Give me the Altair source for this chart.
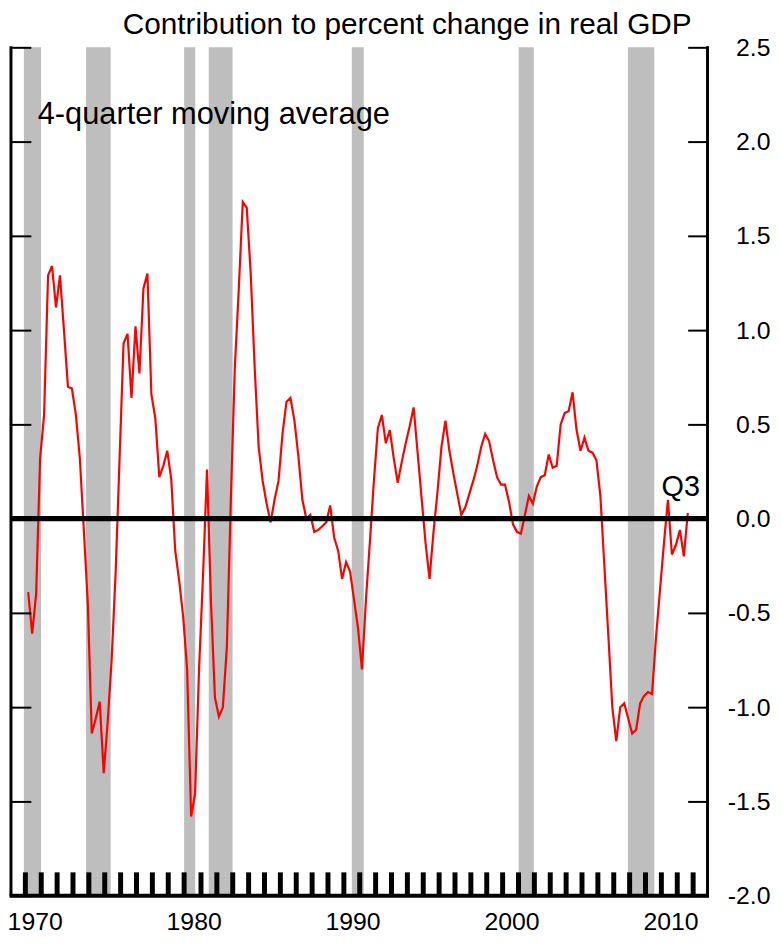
import altair as alt
import pandas as pd

# ---------------- data ----------------
TITLE = "Contribution to percent change in real GDP"
NOTE = "4-quarter moving average"
END_LABEL = "Q3"

FIRST_YEAR = 1970  # first observation: 1970 Q1, quarterly to 2011 Q3
VALUES = [
    -0.39, -0.61, -0.40, 0.32, 0.55, 1.29, 1.34, 1.12, 1.29, 1.00,
    0.70, 0.69, 0.55, 0.32, -0.06, -0.45, -1.14, -1.06, -0.97, -1.35,
    -1.08, -0.75, -0.29, 0.32, 0.93, 0.98, 0.64, 1.02, 0.77, 1.22,
    1.30, 0.66, 0.53, 0.22, 0.28, 0.36, 0.21, -0.17, -0.33, -0.52,
    -0.80, -1.58, -1.46, -0.80, -0.30, 0.26, -0.44, -0.95, -1.05, -1.00,
    -0.68, 0.10, 0.80, 1.22, 1.68, 1.65, 1.30, 0.80, 0.38, 0.20,
    0.08, -0.02, 0.10, 0.20, 0.45, 0.62, 0.64, 0.52, 0.33, 0.10,
    0.00, 0.02, -0.07, -0.06, -0.04, -0.02, 0.07, -0.10, -0.17, -0.32,
    -0.23, -0.28, -0.43, -0.58, -0.80, -0.43, -0.12, 0.20, 0.48, 0.55,
    0.40, 0.47, 0.32, 0.19, 0.30, 0.40, 0.49, 0.59, 0.35, 0.11,
    -0.13, -0.32, -0.07, 0.14, 0.38, 0.52, 0.36, 0.24, 0.13, 0.02,
    0.06, 0.13, 0.20, 0.28, 0.38, 0.45, 0.41, 0.31, 0.22, 0.18,
    0.18, 0.09, -0.03, -0.07, -0.08, 0.02, 0.12, 0.08, 0.17, 0.22,
    0.23, 0.34, 0.27, 0.28, 0.50, 0.56, 0.57, 0.67, 0.47, 0.36,
    0.43, 0.36, 0.35, 0.31, 0.12, -0.25, -0.62, -1.00, -1.18, -1.00,
    -0.98, -1.06, -1.14, -1.12, -0.98, -0.94, -0.92, -0.93, -0.63, -0.38,
    -0.13, 0.10, -0.19, -0.14, -0.06, -0.20, 0.03,
]

# recession shading (decimal years)
REC_START = [1969.92, 1973.83, 1980.00, 1981.55, 1990.55, 2001.05, 2007.92]
REC_END = [1971.00, 1975.38, 1980.70, 1983.05, 1991.30, 2002.00, 2009.58]

Y_TICKS = [-2.0, -1.5, -1.0, -0.5, 0.0, 0.5, 1.0, 1.5, 2.0, 2.5]
X_TICKS = list(range(1970, 2013))
X_LABELS = [1970, 1980, 1990, 2000, 2010]

# ---------------- layout ----------------
W, H = 702, 855
XDOM = [1969.107, 2012.93]
YDOM = [-2.0, 2.5]
QUARTER_POS = 0.19  # position of a quarter inside its year slot

LABEL_FONT = "Liberation Sans, Arial, Helvetica"
TEXT_FONT = "Liberation Sans, Arial, Helvetica"

line_df = pd.DataFrame({
    "t": [FIRST_YEAR + QUARTER_POS + 0.25 * i for i in range(len(VALUES))],
    "v": VALUES,
})
rec_df = pd.DataFrame({"s": REC_START, "e": REC_END})
zero_df = pd.DataFrame({"z": [0.0]})
one_df = pd.DataFrame({"a": [0]})

xscale = alt.Scale(domain=XDOM, nice=False, zero=False)
yscale = alt.Scale(domain=YDOM, nice=False, zero=False)

label_list = ",".join(str(v) for v in X_LABELS)
x_axis = alt.Axis(
    orient="bottom", values=X_TICKS, offset=-24, tickSize=24, tickWidth=5,
    tickColor="black", domain=False, grid=False, title=None,
    labelExpr=f"indexof([{label_list}], datum.value) >= 0 ? format(datum.value, 'd') : ''",
    labelOffset=9.6, labelPadding=14, labelFont=LABEL_FONT, labelFontSize=25,
    labelColor="black", labelFlush=False, labelOverlap=False, labelBound=False,
    zindex=1,
)
y_right = alt.Axis(
    orient="right", values=Y_TICKS, offset=-20, tickSize=20, tickWidth=2,
    tickColor="black", domain=False, grid=False, title=None,
    labelExpr="(datum.value < 0 ? '-' : '') + format(abs(datum.value), '.1f')",
    labelPadding=63, labelFont=LABEL_FONT, labelFontSize=25, labelColor="black",
    labelAlign="right", labelBaseline="middle", labelFlush=False,
    labelOverlap=False, labelBound=False, zindex=1,
)
y_left = alt.Axis(
    orient="left", values=Y_TICKS, offset=-20, tickSize=20, tickWidth=2,
    tickColor="black", domain=False, grid=False, title=None, labels=False,
    zindex=1,
)

recessions = alt.Chart(rec_df).mark_rect(color="#bebebe").encode(
    x=alt.X("s:Q", scale=xscale, axis=x_axis),
    x2="e:Q",
    y=alt.value(0),
    y2=alt.value(H),
)

line = alt.Chart(line_df).mark_line(color="#ff0000", strokeWidth=2.2).encode(
    x=alt.X("t:Q", scale=xscale, axis=x_axis),
    y=alt.Y("v:Q", scale=yscale, axis=y_right),
)

zero = alt.Chart(zero_df).mark_rule(color="black", strokeWidth=5.5).encode(
    y=alt.Y("z:Q", scale=yscale, axis=y_left),
)

frame_left = alt.Chart(one_df).mark_rule(color="black", strokeWidth=3).encode(
    x=alt.value(0), y=alt.value(-1), y2=alt.value(H))
frame_right = alt.Chart(one_df).mark_rule(color="black", strokeWidth=3).encode(
    x=alt.value(W), y=alt.value(-1), y2=alt.value(H))
frame_bottom = alt.Chart(one_df).mark_rule(color="black", strokeWidth=4).encode(
    x=alt.value(-1.5), x2=alt.value(W + 1.5), y=alt.value(H))

title = alt.Chart(one_df).mark_text(
    font=TEXT_FONT, fontSize=30, color="black", align="right", baseline="alphabetic"
).encode(x=alt.value(686), y=alt.value(-13), text=alt.value(TITLE))

note = alt.Chart(one_df).mark_text(
    font=TEXT_FONT, fontSize=31, color="black", align="left", baseline="alphabetic"
).encode(x=alt.value(27), y=alt.value(77), text=alt.value(NOTE))

qlabel = alt.Chart(one_df).mark_text(
    font=TEXT_FONT, fontSize=29, color="black", align="center", baseline="alphabetic"
).encode(x=alt.value(675), y=alt.value(452), text=alt.value(END_LABEL))

chart = alt.layer(
    recessions, line, zero, frame_left, frame_right, frame_bottom, title, note, qlabel
).properties(
    width=W, height=H,
    padding={"left": 3, "top": 36, "right": 66, "bottom": 38},
    autosize=alt.AutoSizeParams(type="none"),
    background="white",
).configure_view(stroke=None)

chart.save("out.html", embed_options={"renderer": "svg", "actions": False})
